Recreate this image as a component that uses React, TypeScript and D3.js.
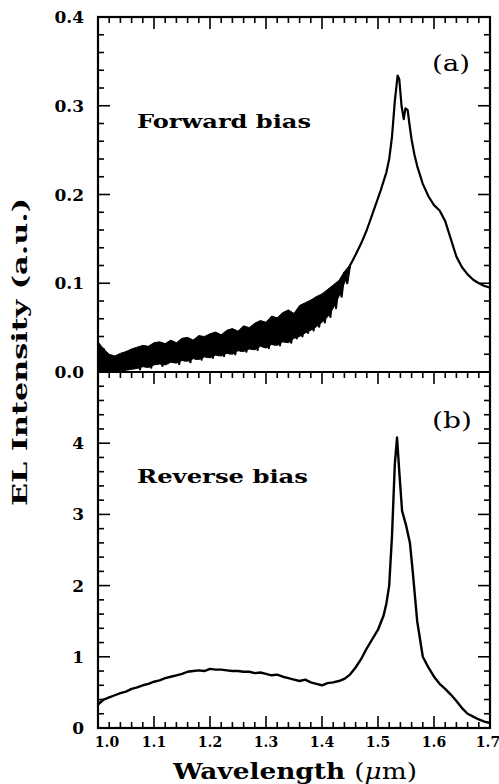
import React from "react";
import * as d3 from "d3";

// Panel (a): forward bias
const forwardWl = [
  1.000, 1.005, 1.010, 1.015, 1.020, 1.025, 1.030, 1.035, 1.040, 1.045,
  1.050, 1.055, 1.060, 1.065, 1.070, 1.075, 1.080, 1.085, 1.090, 1.095,
  1.100, 1.105, 1.110, 1.115, 1.120, 1.125, 1.130, 1.135, 1.140, 1.145,
  1.150, 1.155, 1.160, 1.165, 1.170, 1.175, 1.180, 1.185, 1.190, 1.195,
  1.200, 1.205, 1.210, 1.215, 1.220, 1.225, 1.230, 1.235, 1.240, 1.245,
  1.250, 1.255, 1.260, 1.265, 1.270, 1.275, 1.280, 1.285, 1.290, 1.295,
  1.300, 1.305, 1.310, 1.315, 1.320, 1.325, 1.330, 1.335, 1.340, 1.345,
  1.350, 1.355, 1.360, 1.365, 1.370, 1.375, 1.380, 1.385, 1.390, 1.395,
  1.400, 1.405, 1.410, 1.415, 1.420, 1.425, 1.430, 1.435, 1.440, 1.445,
  1.450, 1.455, 1.460, 1.470, 1.480, 1.490, 1.500, 1.505, 1.510, 1.515,
  1.520, 1.525, 1.530, 1.535, 1.538, 1.542, 1.546, 1.549, 1.553, 1.556,
  1.560, 1.565, 1.570, 1.580, 1.590, 1.600, 1.610, 1.620, 1.630, 1.640,
  1.650, 1.660, 1.670, 1.680, 1.690, 1.700,
];
const forwardEl = [
  0.030, 0.012, 0.026, 0.004, 0.018, 0.002, 0.015, 0.003, 0.017, 0.001,
  0.019, 0.004, 0.022, 0.006, 0.024, 0.003, 0.027, 0.008, 0.025, 0.005,
  0.029, 0.009, 0.031, 0.007, 0.030, 0.010, 0.033, 0.012, 0.029, 0.009,
  0.034, 0.013, 0.036, 0.011, 0.033, 0.015, 0.038, 0.014, 0.036, 0.017,
  0.040, 0.016, 0.042, 0.019, 0.039, 0.018, 0.044, 0.021, 0.046, 0.020,
  0.043, 0.024, 0.049, 0.023, 0.047, 0.026, 0.052, 0.025, 0.055, 0.029,
  0.053, 0.027, 0.060, 0.031, 0.058, 0.030, 0.064, 0.034, 0.067, 0.033,
  0.063, 0.038, 0.072, 0.040, 0.075, 0.044, 0.078, 0.047, 0.082, 0.051,
  0.085, 0.056, 0.090, 0.062, 0.095, 0.072, 0.100, 0.085, 0.112, 0.100,
  0.120, 0.126, 0.132, 0.145, 0.160, 0.178, 0.196, 0.205, 0.215, 0.225,
  0.240, 0.265, 0.305, 0.334, 0.330, 0.300, 0.285, 0.297, 0.295, 0.280,
  0.262, 0.245, 0.232, 0.212, 0.198, 0.188, 0.182, 0.170, 0.150, 0.130,
  0.118, 0.110, 0.104, 0.100, 0.097, 0.095,
];

// Panel (a): envelope of the noisy band (1.00–1.45 µm)
const bandWl = [
  1.00, 1.01, 1.02, 1.03, 1.04, 1.05, 1.06, 1.07, 1.08, 1.09,
  1.10, 1.11, 1.12, 1.13, 1.14, 1.15, 1.16, 1.17, 1.18, 1.19,
  1.20, 1.21, 1.22, 1.23, 1.24, 1.25, 1.26, 1.27, 1.28, 1.29,
  1.30, 1.31, 1.32, 1.33, 1.34, 1.35, 1.36, 1.37, 1.38, 1.39,
  1.40, 1.41, 1.42, 1.43, 1.44, 1.45,
];
const bandUpper = [
  0.034, 0.026, 0.020, 0.018, 0.021, 0.023, 0.026, 0.028, 0.030, 0.029,
  0.033, 0.034, 0.032, 0.036, 0.033, 0.038, 0.039, 0.036, 0.041, 0.040,
  0.043, 0.045, 0.042, 0.047, 0.049, 0.046, 0.052, 0.050, 0.055, 0.058,
  0.056, 0.063, 0.061, 0.067, 0.070, 0.066, 0.075, 0.078, 0.081, 0.085,
  0.088, 0.093, 0.098, 0.103, 0.113, 0.121,
];
const bandLower = [
  0.000, 0.000, 0.000, 0.000, 0.001, 0.002, 0.003, 0.004, 0.006, 0.005,
  0.008, 0.009, 0.008, 0.011, 0.010, 0.013, 0.012, 0.015, 0.014, 0.017,
  0.016, 0.019, 0.018, 0.021, 0.020, 0.024, 0.023, 0.026, 0.025, 0.029,
  0.027, 0.031, 0.030, 0.034, 0.033, 0.038, 0.040, 0.044, 0.047, 0.051,
  0.056, 0.062, 0.072, 0.085, 0.100, 0.118,
];

// Panel (b): reverse bias
const reverseWl = [
  1.000, 1.010, 1.020, 1.030, 1.040, 1.050, 1.060, 1.070, 1.080, 1.090,
  1.100, 1.110, 1.120, 1.130, 1.140, 1.150, 1.160, 1.170, 1.180, 1.190,
  1.200, 1.210, 1.220, 1.230, 1.240, 1.250, 1.260, 1.270, 1.280, 1.290,
  1.300, 1.310, 1.320, 1.330, 1.340, 1.350, 1.360, 1.370, 1.380, 1.390,
  1.400, 1.410, 1.420, 1.430, 1.440, 1.450, 1.460, 1.470, 1.480, 1.490,
  1.500, 1.510, 1.515, 1.520, 1.525, 1.530, 1.534, 1.538, 1.543, 1.550,
  1.557, 1.562, 1.566, 1.570, 1.575, 1.580, 1.590, 1.600, 1.610, 1.620,
  1.630, 1.640, 1.650, 1.660, 1.670, 1.680, 1.690, 1.700,
];
const reverseEl = [
  0.33, 0.40, 0.43, 0.46, 0.49, 0.51, 0.55, 0.57, 0.60, 0.62,
  0.65, 0.67, 0.70, 0.72, 0.74, 0.76, 0.79, 0.80, 0.81, 0.80,
  0.83, 0.82, 0.82, 0.81, 0.80, 0.80, 0.79, 0.79, 0.77, 0.78,
  0.76, 0.74, 0.75, 0.72, 0.70, 0.68, 0.66, 0.68, 0.64, 0.62,
  0.60, 0.63, 0.64, 0.66, 0.69, 0.75, 0.85, 0.97, 1.12, 1.25,
  1.38, 1.58, 1.75, 2.00, 2.70, 3.70, 4.08, 3.60, 3.05, 2.85,
  2.60, 2.20, 1.85, 1.50, 1.25, 1.00, 0.85, 0.72, 0.62, 0.55,
  0.47, 0.38, 0.28, 0.20, 0.16, 0.12, 0.09, 0.07,
];

const xTickLabels = ["1.0", "1.1", "1.2", "1.3", "1.4", "1.5", "1.6", "1.7"];
const yTickLabelsA = ["0.0", "0.1", "0.2", "0.3", "0.4"];
const yTickLabelsB = ["0", "1", "2", "3", "4"];

const W = 499;
const H = 784;
const L = 98;
const R = 490;
const TOP = 17;
const MID = 372;
const BOT = 728;

const serif = "'DejaVu Serif', 'Liberation Serif', serif";

export default function App() {
  const x = d3.scaleLinear().domain([1.0, 1.7]).range([L, R]);
  const yA = d3.scaleLinear().domain([0, 0.4]).range([MID, TOP]);
  const yB = d3.scaleLinear().domain([0, 5]).range([BOT, MID]);

  const lineA = d3
    .line<number>()
    .x((_, i) => x(forwardWl[i]))
    .y((d) => yA(d));
  const lineB = d3
    .line<number>()
    .x((_, i) => x(reverseWl[i]))
    .y((d) => yB(d));
  const bandArea = d3
    .area<number>()
    .x((_, i) => x(bandWl[i]))
    .y0((_, i) => yA(bandLower[i]))
    .y1((d) => yA(d));

  const xMinor = d3.range(0, 36).map((i) => 1.0 + i * 0.02);
  const aMinor = d3.range(0, 21).map((i) => i * 0.02);
  const bMinor = d3.range(0, 26).map((i) => i * 0.2);
  const isMajor = (v: number, step: number) =>
    Math.abs(v / step - Math.round(v / step)) < 1e-6;

  const ticks: JSX.Element[] = [];
  xMinor.forEach((v, i) => {
    const major = isMajor(v - 1.0, 0.1);
    const len = major ? 12 : 6;
    const px = x(v);
    ticks.push(<line key={`xt${i}`} x1={px} x2={px} y1={TOP} y2={TOP + len} />);
    ticks.push(<line key={`xm${i}`} x1={px} x2={px} y1={MID} y2={MID + len} />);
    ticks.push(<line key={`xb${i}`} x1={px} x2={px} y1={BOT} y2={BOT - len} />);
  });
  aMinor.forEach((v, i) => {
    const major = isMajor(v, 0.1);
    const len = major ? 12 : 6;
    const py = yA(v);
    ticks.push(<line key={`al${i}`} x1={L} x2={L + len} y1={py} y2={py} />);
    ticks.push(<line key={`ar${i}`} x1={R} x2={R - len} y1={py} y2={py} />);
  });
  bMinor.forEach((v, i) => {
    const major = isMajor(v, 1);
    const len = major ? 12 : 6;
    const py = yB(v);
    ticks.push(<line key={`bl${i}`} x1={L} x2={L + len} y1={py} y2={py} />);
    ticks.push(<line key={`br${i}`} x1={R} x2={R - len} y1={py} y2={py} />);
  });

  return (
    <svg width={W} height={H} style={{ position: "absolute", left: 0, top: 0, background: "#fff" }}>
      <rect x={0} y={0} width={W} height={H} fill="#fff" />
      <g stroke="#000" strokeWidth={1.6}>{ticks}</g>
      <rect x={L} y={TOP} width={R - L} height={BOT - TOP} fill="none" stroke="#000" strokeWidth={2.2} />
      <line x1={L} x2={R} y1={MID} y2={MID} stroke="#000" strokeWidth={2.2} />

      <path d={bandArea(bandUpper) || ""} fill="#000" stroke="#000" strokeWidth={1} />
      <path d={lineA(forwardEl) || ""} fill="none" stroke="#000" strokeWidth={2.2} strokeLinejoin="round" />
      <path d={lineB(reverseEl) || ""} fill="none" stroke="#000" strokeWidth={2.4} strokeLinejoin="round" />

      <g fontFamily={serif} fontWeight="bold" fill="#000">
        {yTickLabelsA.map((t) => (
          <text key={`ya${t}`} x={84} y={yA(+t) + 6} fontSize={17} textAnchor="end">{t}</text>
        ))}
        {yTickLabelsB.map((t) => (
          <text key={`yb${t}`} x={84} y={yB(+t) + 6} fontSize={17} textAnchor="end">{t}</text>
        ))}
        {xTickLabels.map((t, i) => (
          <text key={`x${t}`} x={x(+t) + (i === 0 ? 9 : i === xTickLabels.length - 1 ? -2 : 0)} y={747} fontSize={14} textAnchor="middle">{t}</text>
        ))}
        <text x={137} y={128} fontSize={18} textLength={174} lengthAdjust="spacingAndGlyphs">Forward bias</text>
        <text x={137} y={483} fontSize={18} textLength={171} lengthAdjust="spacingAndGlyphs">Reverse bias</text>
        <text x={432} y={71} fontSize={22} fontWeight="normal" textLength={38} lengthAdjust="spacingAndGlyphs">(a)</text>
        <text x={432} y={428} fontSize={22} fontWeight="normal" textLength={40} lengthAdjust="spacingAndGlyphs">(b)</text>
        <text x={173} y={779} fontSize={23} textLength={244} lengthAdjust="spacingAndGlyphs">
          Wavelength <tspan fontWeight="normal">(</tspan><tspan fontWeight="normal" fontStyle="italic">μ</tspan><tspan fontWeight="normal">m)</tspan>
        </text>
        <text transform="translate(27,352) rotate(-90)" x={0} y={0} fontSize={21} textAnchor="middle" textLength={308} lengthAdjust="spacingAndGlyphs">
          EL Intensity (a.u.)
        </text>
      </g>
    </svg>
  );
}
